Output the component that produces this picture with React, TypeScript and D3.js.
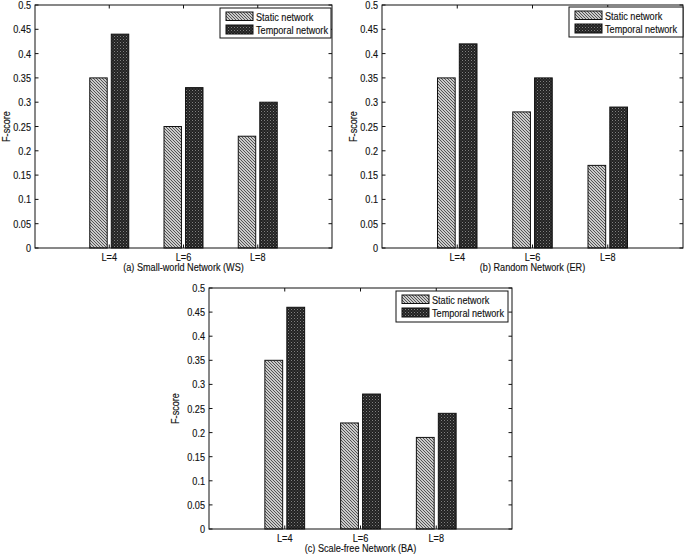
import React from "react";
import * as d3 from "d3";

const categories = ["L=4", "L=6", "L=8"];
const seriesNames = ["Static network", "Temporal network"];
const wsStatic = [0.35, 0.25, 0.23];
const wsTemporal = [0.44, 0.33, 0.30];
const erStatic = [0.35, 0.28, 0.17];
const erTemporal = [0.42, 0.35, 0.29];
const baStatic = [0.35, 0.22, 0.19];
const baTemporal = [0.46, 0.28, 0.24];
const yTickValues = [0, 0.05, 0.1, 0.15, 0.2, 0.25, 0.3, 0.35, 0.4, 0.45, 0.5];
const yTickLabels = ["0", "0.05", "0.1", "0.15", "0.2", "0.25", "0.3", "0.35", "0.4", "0.45", "0.5"];
const captions = [
  "(a) Small-world Network (WS)",
  "(b) Random Network (ER)",
  "(c) Scale-free Network (BA)",
];

const FONT = "'Liberation Sans', Arial, Helvetica, sans-serif";
const FS = 11;
const SX = 0.83;

function Txt({ x, y, anchor = "start", rotate = 0, children }: any) {
  return (
    <text
      transform={`translate(${x},${y}) rotate(${rotate}) scale(${SX},1)`}
      textAnchor={anchor}
      fontFamily={FONT}
      fontSize={FS}
      fill="#111"
      stroke="#111"
      strokeWidth={0.15}
    >
      {children}
    </text>
  );
}

function Panel({ left, right, top, bottom, st, tp, caption, legend, ylabX }: any) {
  const x = d3.scaleLinear().domain([0, 4]).range([left, right]);
  const y = d3.scaleLinear().domain([0, 0.5]).range([bottom, top]);
  const off = 0.145;
  const bw = 0.235;
  const unit = x(1) - x(0);
  const tl = 3.5;
  const cx = (left + right) / 2;
  return (
    <g>
      {categories.map((c, i) => {
        const g = i + 1;
        return (
          <g key={c}>
            <rect
              x={x(g - off) - (bw * unit) / 2}
              y={y(st[i])}
              width={bw * unit}
              height={y(0) - y(st[i])}
              fill="url(#hatch)"
              stroke="#111"
              strokeWidth={1}
            />
            <rect
              x={x(g + off) - (bw * unit) / 2}
              y={y(tp[i])}
              width={bw * unit}
              height={y(0) - y(tp[i])}
              fill="url(#cross)"
              stroke="#111"
              strokeWidth={1}
            />
          </g>
        );
      })}
      <rect x={left} y={top} width={right - left} height={bottom - top} fill="none" stroke="#111" strokeWidth={1} />
      {yTickValues.map((v, i) => (
        <g key={v}>
          <line x1={left} x2={left + tl} y1={y(v)} y2={y(v)} stroke="#111" />
          <line x1={right} x2={right - tl} y1={y(v)} y2={y(v)} stroke="#111" />
          <Txt x={left - 4} y={y(v) + 4} anchor="end">
            {yTickLabels[i]}
          </Txt>
        </g>
      ))}
      {categories.map((c, i) => (
        <g key={c}>
          <line x1={x(i + 1)} x2={x(i + 1)} y1={bottom} y2={bottom - tl} stroke="#111" />
          <line x1={x(i + 1)} x2={x(i + 1)} y1={top} y2={top + tl} stroke="#111" />
          <Txt x={x(i + 1)} y={bottom + 13} anchor="middle">
            {c}
          </Txt>
        </g>
      ))}
      <Txt x={cx} y={bottom + 22.5} anchor="middle">
        {caption}
      </Txt>
      <Txt x={ylabX} y={(top + bottom) / 2} anchor="middle" rotate={-90}>
        F-score
      </Txt>
      <g>
        <rect x={legend.x} y={legend.y} width={legend.w} height={legend.h} fill="#fff" stroke="#111" />
        <rect x={legend.x + 6} y={legend.y + 4} width={27} height={8.5} fill="url(#hatch)" stroke="#111" />
        <rect x={legend.x + 6} y={legend.y + 17} width={27} height={9} fill="url(#cross)" stroke="#111" />
        <Txt x={legend.x + 36} y={legend.y + 12.5}>
          {seriesNames[0]}
        </Txt>
        <Txt x={legend.x + 36} y={legend.y + 26}>
          {seriesNames[1]}
        </Txt>
      </g>
    </g>
  );
}

export default function App() {
  return (
    <svg
      width={685}
      height={554}
      style={{ position: "absolute", left: 0, top: 0, background: "#fff" }}
    >
      <defs>
        <pattern id="hatch" patternUnits="userSpaceOnUse" width={3} height={3}>
          <rect width={3} height={3} fill="#fafafa" />
          <path d="M-1,-1 L4,4 M-1,2 L1,4 M2,-1 L4,1" stroke="#4a4a4a" strokeWidth={1.05} />
        </pattern>
        <pattern id="cross" patternUnits="userSpaceOnUse" width={3} height={3}>
          <rect width={3} height={3} fill="#222" />
          <rect x={0} y={0} width={1} height={1} fill="#808080" />
          <rect x={1.5} y={1.5} width={1} height={1} fill="#5a5a5a" />
        </pattern>
      </defs>
      <Panel
        left={35}
        right={332}
        top={5}
        bottom={248}
        st={wsStatic}
        tp={wsTemporal}
        caption={captions[0]}
        legend={{ x: 220, y: 8, w: 111, h: 30 }}
        ylabX={9.5}
      />
      <Panel
        left={382}
        right={683}
        top={5}
        bottom={248}
        st={erStatic}
        tp={erTemporal}
        caption={captions[1]}
        legend={{ x: 569, y: 7, w: 114, h: 30 }}
        ylabX={357}
      />
      <Panel
        left={209}
        right={512}
        top={288}
        bottom={529}
        st={baStatic}
        tp={baTemporal}
        caption={captions[2]}
        legend={{ x: 396, y: 291, w: 112, h: 31 }}
        ylabX={179}
      />
    </svg>
  );
}
